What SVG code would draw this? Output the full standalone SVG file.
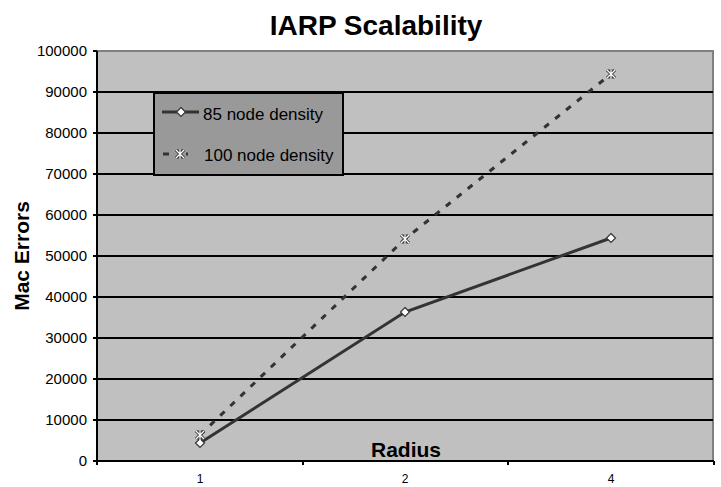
<svg xmlns="http://www.w3.org/2000/svg" width="721" height="487" viewBox="0 0 721 487">
<style>
  text { font-family: "Liberation Sans", Arial, sans-serif; fill: #000; }
  .tick { font-size: 15px; }
  .xtick { font-size: 12px; text-anchor: middle; }
  .ylab { text-anchor: end; }
  .title { font-size: 28px; font-weight: bold; text-anchor: middle; }
  .axt { font-size: 21px; font-weight: bold; text-anchor: middle; }
  .grid { stroke: #000; stroke-width: 2; }
  .axis { stroke: #000; stroke-width: 2; fill: none; }
  .s85 { stroke: #333; stroke-width: 3; fill: none; }
  .s100 { stroke: #333; stroke-width: 3; fill: none; stroke-dasharray: 6 8; }
  .leg { font-size: 17px; }
</style>
<defs>
  <g id="diamond"><path d="M0,-4.5 L4.5,0 L0,4.5 L-4.5,0 Z" fill="#fff" stroke="#333" stroke-width="1.2"/></g>
  <g id="star">
    <path d="M-4,-4 L4,4 M4,-4 L-4,4 M0,-5 L0,5" stroke="#333" stroke-width="3"/>
    <path d="M-4,-4 L4,4 M4,-4 L-4,4 M0,-5 L0,5" stroke="#fff" stroke-width="1.2"/>
  </g>
</defs>
<rect width="721" height="487" fill="#fff"/>
<text class="title" x="376" y="35">IARP Scalability</text>

<g id="plot-area">
  <rect x="97" y="51" width="616" height="410" fill="#c0c0c0" stroke="#808080" stroke-width="2"/>
  <g class="gridlines">
    <line class="grid" x1="97" y1="92" x2="713" y2="92"/>
    <line class="grid" x1="97" y1="133" x2="713" y2="133"/>
    <line class="grid" x1="97" y1="174" x2="713" y2="174"/>
    <line class="grid" x1="97" y1="215" x2="713" y2="215"/>
    <line class="grid" x1="97" y1="256" x2="713" y2="256"/>
    <line class="grid" x1="97" y1="297" x2="713" y2="297"/>
    <line class="grid" x1="97" y1="338" x2="713" y2="338"/>
    <line class="grid" x1="97" y1="379" x2="713" y2="379"/>
    <line class="grid" x1="97" y1="420" x2="713" y2="420"/>
  </g>
</g>

<g id="axes">
  <path class="axis" d="M97,51 L97,461 L714,461"/>
  <path class="axis" d="M93,51 H97 M93,92 H97 M93,133 H97 M93,174 H97 M93,215 H97 M93,256 H97 M93,297 H97 M93,338 H97 M93,379 H97 M93,420 H97 M93,461 H97"/>
  <path class="axis" d="M97,461 V465 M303,461 V465 M508,461 V465 M714,461 V465"/>
  <text class="tick ylab" x="87" y="56">100000</text>
  <text class="tick ylab" x="87" y="97">90000</text>
  <text class="tick ylab" x="87" y="138">80000</text>
  <text class="tick ylab" x="87" y="179">70000</text>
  <text class="tick ylab" x="87" y="220">60000</text>
  <text class="tick ylab" x="87" y="261">50000</text>
  <text class="tick ylab" x="87" y="302">40000</text>
  <text class="tick ylab" x="87" y="343">30000</text>
  <text class="tick ylab" x="87" y="384">20000</text>
  <text class="tick ylab" x="87" y="425">10000</text>
  <text class="tick ylab" x="87" y="466">0</text>
  <text class="xtick" x="200" y="483">1</text>
  <text class="xtick" x="405" y="483">2</text>
  <text class="xtick" x="611" y="483">4</text>
  <text class="axt" x="406" y="457">Radius</text>
  <text class="axt" transform="translate(29,256) rotate(-90)">Mac Errors</text>
</g>

<g id="connectors">
  <polyline id="series-85" class="s85" points="200,443 405,312 611,238"/>
  <polyline id="series-100" class="s100" points="200,435 405,239 611,74"/>
</g>

<g id="markers-85">
  <use href="#diamond" x="200" y="443"/>
  <use href="#diamond" x="405" y="312"/>
  <use href="#diamond" x="611" y="238"/>
</g>
<g id="markers-100">
  <use href="#star" x="200" y="435"/>
  <use href="#star" x="405" y="239"/>
  <use href="#star" x="611" y="74"/>
</g>

<g id="legend">
  <rect x="154" y="93" width="189" height="82" fill="#999" stroke="#000" stroke-width="2"/>
  <line class="s85" x1="162" y1="112" x2="199" y2="112"/>
  <use href="#diamond" x="181" y="112"/>
  <text class="leg" x="203" y="120">85 node density</text>
  <line x1="163" y1="154" x2="169" y2="154" stroke="#333" stroke-width="3"/>
  <line x1="186" y1="154" x2="188" y2="154" stroke="#333" stroke-width="3"/>
  <use href="#star" x="180" y="154"/>
  <text class="leg" x="204" y="161">100 node density</text>
</g>
</svg>
